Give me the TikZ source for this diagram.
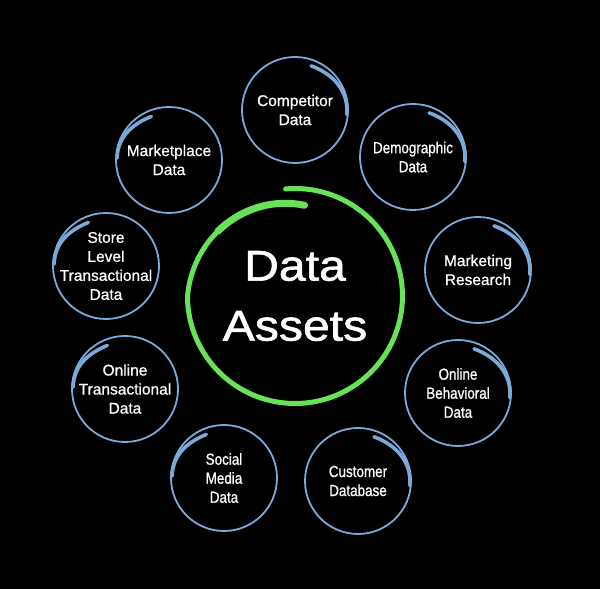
\documentclass[tikz,border=0pt]{standalone}
\usepackage{fontspec}
\setmainfont{Liberation Sans}
\newfontfamily\labelsans[FakeBold=0.8]{Liberation Sans}
\newfontfamily\narrowsans[FakeStretch=0.84, FakeBold=0.8]{Liberation Sans}
\newfontfamily\widesans[FakeStretch=1.12, FakeBold=1.4]{Liberation Sans}
\definecolor{ringblue}{RGB}{124,170,216}
\definecolor{ringgreen}{RGB}{104,226,88}

\begin{document}
\begin{tikzpicture}[x=1pt, y=1pt,
  lbl/.style={text=white, align=center, font=\labelsans\fontsize{15.5}{19}\selectfont},
  narrow/.style={font=\narrowsans\fontsize{16}{19}\selectfont},
  core/.style={text=white, align=center, font=\widesans\fontsize{43}{60}\selectfont},
  bubble/.style={draw=ringblue, line width=1.8pt},
  brush/.style={draw=ringblue, line width=3.6pt, line cap=round},
  ring/.style={draw=ringgreen, line width=5pt, line cap=round}]
\fill[black, use as bounding box] (0,0) rectangle (600,589);

\node[core] (core) at (295,293) {Data\\Assets};
\node[lbl] (comp) at (295,479) {Competitor\\Data};
\node[lbl, narrow] (demo) at (413,432) {Demographic\\Data};
\node[lbl] (mktr) at (478,319) {Marketing\\Research};
\node[lbl, narrow] (behav) at (458,196) {Online\\Behavioral\\Data};
\node[lbl, narrow] (cust) at (358,108) {Customer\\Database};
\node[lbl, narrow] (social) at (224,111) {Social\\Media\\Data};
\node[lbl] (otrans) at (125,200) {Online\\Transactional\\Data};
\node[lbl] (store) at (106,323) {Store\\Level\\Transactional\\Data};
\node[lbl] (mktp) at (169,429) {Marketplace\\Data};

\draw[ring, shift={(core.center)}] plot[domain=95:-276, samples=120, smooth] (\x:{107.5-0.17*max(0,-180-\x)});
\draw[ring, line width=7pt, shift={(core.center)}] plot[domain=-220:-276, samples=40, smooth] (\x:{107.5-0.17*max(0,-180-\x)});

\foreach \n in {comp,demo,mktr,behav,cust,social,otrans,store,mktp}
  \draw[bubble] (\n.center) circle[radius=53pt];
\foreach \n in {comp,demo,mktr,behav,cust}
  \draw[brush] ([shift={(70:47pt)}]\n.center) to[out=-20,in=85] ([shift={(-5:52pt)}]\n.center);
\foreach \n in {mktp,store,otrans,social}
  \draw[brush] ([shift={(112:47pt)}]\n.center) to[out=202,in=88] ([shift={(178:52pt)}]\n.center);
\end{tikzpicture}
\end{document}
